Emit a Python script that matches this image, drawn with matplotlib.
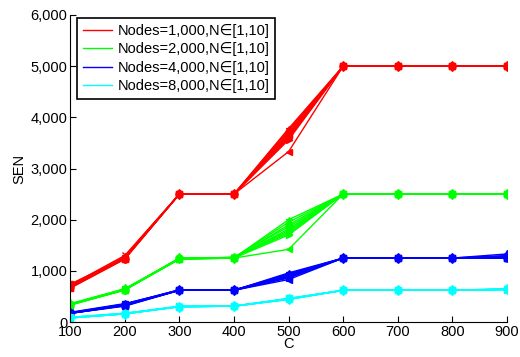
import matplotlib
matplotlib.use('Agg')
import matplotlib.pyplot as plt
from matplotlib.lines import Line2D
from matplotlib.ticker import FuncFormatter

plt.rcParams['font.family'] = ['Liberation Sans', 'DejaVu Sans']

# x axis: C
C = [100, 200, 300, 400, 500, 600, 700, 800, 900]

# SEN values, 10 runs (N = 1..10) per node count
sen_1000 = [
    [680, 1250, 2500, 2500, 3780, 5000, 5000, 5000, 5000],
    [700, 1270, 2500, 2500, 3750, 5000, 5000, 5000, 5000],
    [690, 1240, 2500, 2500, 3720, 5000, 5000, 5000, 5000],
    [720, 1300, 2500, 2500, 3690, 5000, 5000, 5000, 5000],
    [670, 1230, 2500, 2500, 3660, 5000, 5000, 5000, 5000],
    [700, 1260, 2500, 2500, 3640, 5000, 5000, 5000, 5000],
    [680, 1280, 2500, 2500, 3610, 5000, 5000, 5000, 5000],
    [740, 1250, 2500, 2500, 3590, 5000, 5000, 5000, 5000],
    [690, 1240, 2500, 2500, 3560, 5000, 5000, 5000, 5000],
    [660, 1230, 2500, 2500, 3330, 5000, 5000, 5000, 5000],
]
sen_2000 = [
    [340, 630, 1230, 1250, 2000, 2500, 2500, 2500, 2500],
    [350, 640, 1240, 1260, 1950, 2500, 2500, 2500, 2500],
    [330, 630, 1250, 1250, 1900, 2500, 2500, 2500, 2500],
    [360, 650, 1230, 1270, 1860, 2500, 2500, 2500, 2500],
    [340, 620, 1240, 1250, 1820, 2500, 2500, 2500, 2500],
    [350, 640, 1250, 1260, 1790, 2500, 2500, 2500, 2500],
    [330, 630, 1230, 1250, 1760, 2500, 2500, 2500, 2500],
    [340, 650, 1240, 1260, 1730, 2500, 2500, 2500, 2500],
    [350, 630, 1230, 1250, 1700, 2500, 2500, 2500, 2500],
    [340, 640, 1240, 1250, 1420, 2500, 2500, 2500, 2500],
]
sen_4000 = [
    [170, 330, 620, 620, 960, 1250, 1250, 1250, 1250],
    [180, 350, 630, 620, 940, 1250, 1250, 1250, 1260],
    [170, 320, 620, 630, 920, 1250, 1250, 1250, 1250],
    [190, 360, 620, 620, 910, 1250, 1250, 1250, 1280],
    [170, 330, 630, 620, 900, 1250, 1250, 1250, 1250],
    [180, 340, 620, 620, 890, 1250, 1250, 1250, 1300],
    [170, 320, 620, 630, 880, 1250, 1250, 1250, 1250],
    [180, 350, 630, 620, 870, 1250, 1250, 1250, 1270],
    [170, 330, 620, 620, 860, 1250, 1250, 1250, 1250],
    [170, 310, 620, 620, 830, 1250, 1250, 1250, 1330],
]
sen_8000 = [
    [80, 160, 300, 310, 450, 620, 620, 620, 640],
    [90, 170, 300, 310, 460, 620, 620, 620, 650],
    [80, 160, 300, 310, 440, 620, 620, 620, 640],
    [90, 170, 310, 310, 450, 620, 620, 620, 630],
    [80, 160, 300, 310, 460, 620, 620, 620, 640],
    [80, 160, 300, 310, 450, 620, 620, 620, 650],
    [90, 170, 300, 310, 440, 620, 620, 620, 640],
    [80, 160, 300, 310, 450, 620, 620, 620, 640],
    [80, 160, 310, 310, 460, 620, 620, 620, 630],
    [90, 170, 300, 310, 450, 620, 620, 620, 640],
]

labels = ['Nodes=1,000,N\u2208[1,10]', 'Nodes=2,000,N\u2208[1,10]',
          'Nodes=4,000,N\u2208[1,10]', 'Nodes=8,000,N\u2208[1,10]']
colors = ['#ff0000', '#00ff00', '#0000ff', '#00ffff']
markers = ['*', '+', 'o', 'x', 's', 'd', '^', 'v', '>', '<']

fig = plt.figure(figsize=(5.2, 3.57), dpi=100)
ax = fig.add_axes([0.135, 0.098, 0.84, 0.86])

for runs, col in zip([sen_1000, sen_2000, sen_4000, sen_8000], colors):
    for run, mk in zip(runs, markers):
        ax.plot(C, run, color=col, lw=1, marker=mk, ms=5, mew=1)

ax.set_xlim(100, 900)
ax.set_ylim(0, 6000)
ax.set_xticks(C)
ax.set_yticks(range(0, 6001, 1000))
ax.yaxis.set_major_formatter(FuncFormatter(lambda v, p: '{:,.0f}'.format(v)))
ax.spines['top'].set_visible(False)
ax.spines['right'].set_visible(False)
ax.tick_params(direction='in', length=4, labelsize=10.5, pad=2)
ax.set_xlabel('C', fontsize=10.5, labelpad=-1)
ax.set_ylabel('SEN', fontsize=10.5, labelpad=3)

handles = [Line2D([], [], color=c, lw=1) for c in colors]
leg = ax.legend(handles, labels, loc='upper left', bbox_to_anchor=(0.016, 0.99),
                borderaxespad=0, fontsize=10.5, fancybox=False, framealpha=1,
                edgecolor='black', handlelength=2.0, handletextpad=0.35,
                borderpad=0.4, labelspacing=0.3)
leg.get_frame().set_linewidth(1.2)

fig.savefig('out.png', dpi=100)
